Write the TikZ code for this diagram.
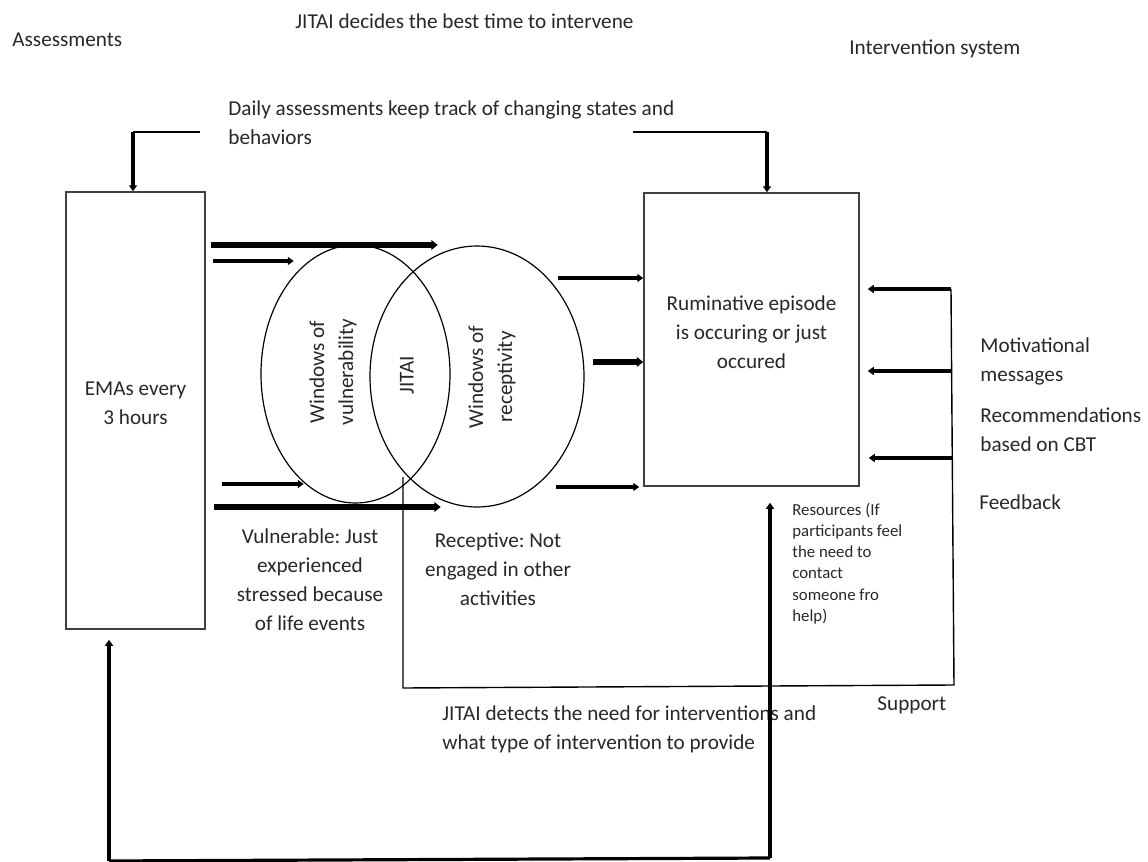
\documentclass[tikz,border=0pt]{standalone}
\usepackage{fontspec}
\setmainfont{Carlito}
\usepackage{tikz}
\usetikzlibrary{arrows.meta, shapes.geometric, positioning, calc}
\definecolor{inkgray}{RGB}{40,40,40}
\definecolor{edgegray}{RGB}{64,64,64}
\frenchspacing

\begin{document}
\begin{tikzpicture}[
    x=0.5pt, y=-0.5pt,
    every node/.style={font=\fontsize{10.6}{14.5}\selectfont, text=inkgray, inner sep=0pt},
    block/.style={rectangle, draw=edgegray, line width=0.75pt},
    window/.style={ellipse, draw=black, line width=0.6pt, inner sep=0pt},
    lbl/.style={align=left, anchor=west},
    mid/.style={align=center},
    small/.style={font=\fontsize{8.4}{10.65}\selectfont},
    arr/.style={-{Triangle[length=3pt,width=4pt]}, line width=2pt},
    fatarr/.style={-{Triangle[length=3.2pt,width=4.8pt]}, line width=2.6pt},
    wire/.style={line width=0.7pt, black}
]
\fill[white] (0,0) rectangle (1148,862);
\useasboundingbox (0,0) rectangle (1148,862);

% headings
\node[lbl] (asmt) at (12,40) {Assessments};
\node[lbl] (decide) at (295,21) {JITAI decides the best time to intervene};
\node[lbl] (intsys) at (849,49) {Intervention system};
\node[lbl] (daily) at (228,122.5) {Daily assessments keep track of changing states and\\behaviors};

% boxes
\node[block, minimum width=69.5pt, minimum height=218.5pt] (emas) at (135.5,410.5) {};
\node[mid] (emastxt) at ([yshift=3.5pt]emas.center) {EMAs every\\3 hours};
\node[block, minimum width=107.5pt, minimum height=146.5pt] (rum) at (751.5,339.5) {};
\node[mid] (rumtxt) at ([yshift=3.5pt]rum.center) {Ruminative episode\\is occuring or just\\occured};

% windows
\node[window, minimum width=94.5pt, minimum height=129pt] (vuln) at (355.5,374) {};
\node[window, minimum width=107pt, minimum height=130.5pt] (recp) at (477,376.5) {};
\node[mid, rotate=90] (vulntxt) at (333,372) {Windows of\\vulnerability};
\node[mid, rotate=90] (jitai) at (407,375) {JITAI};
\node[mid, rotate=90] (recptxt) at (492,377) {Windows of\\receptivity};

% labels
\node[mid] (vultxt) at (310,580) {Vulnerable: Just\\experienced\\stressed because\\of life events};
\node[mid] (rectxt) at (498,569.5) {Receptive: Not\\engaged in other\\activities};
\node[lbl] (motiv) at (980,361) {Motivational\\messages};
\node[lbl] (recom) at (980,430) {Recommendations\\based on CBT};
\node[lbl] (feedb) at (979,502) {Feedback};
\node[lbl, small] (resrc) at (792,563.5) {Resources (If\\participants feel\\the need to\\contact\\someone fro\\help)};
\node[lbl] (supp) at (877,705) {Support};
\node[lbl] (detect) at (442,729.5) {JITAI detects the need for interventions and\\what type of intervention to provide};

% daily assessments
\coordinate (dailyL) at (200,132);
\coordinate (dailyLc) at (133,132);
\coordinate (dailyR) at (633,132);
\coordinate (dailyRc) at (767,132);
\draw[wire] (dailyL) -- (dailyLc);
\draw[arr] (dailyLc) -- (dailyLc |- emas.north);
\draw[wire] (dailyR) -- (dailyRc);
\draw[arr] (dailyRc) -- (dailyRc |- rum.north);

% into the windows
\draw[fatarr] ($(emas.east |- 0,245)+(5,0)$) -- ++(227,0);
\draw[arr] ($(emas.east |- 0,261)+(7,0)$) -- ++(81,0);
\draw[arr] ($(emas.east |- 0,484)+(16,0)$) -- ++(82,0);
\draw[fatarr] ($(emas.east |- 0,507)+(8,0)$) -- ++(227,0);

% into the episode box
\coordinate (outA) at (558,278);
\coordinate (outB) at (593,362);
\coordinate (outC) at (556,487);
\draw[arr] (outA) -- (rum.west |- outA);
\draw[fatarr] (outB) -- (rum.west |- outB);
\draw[arr] (outC) -- ($(rum.west |- outC)+(-4,0)$);

% support loop
\coordinate (brTop) at (951,289);
\coordinate (brBot) at (954,685);
\coordinate (loopBL) at (403,688);
\coordinate (loopTop) at (403,477);
\draw[wire] (brTop) -- (brBot) -- (loopBL) -- (loopTop);
\coordinate (fbB) at (952,371);
\coordinate (fbC) at (952.5,458);
\draw[arr] (brTop) -- ($(rum.east |- brTop)+(8,0)$);
\draw[arr] (fbB) -- ($(rum.east |- fbB)+(8,0)$);
\draw[arr] (fbC) -- ($(rum.east |- fbC)+(9,0)$);

% back to assessments and resources
\coordinate (baseL) at (109,861);
\coordinate (baseR) at (770,858);
\draw[line width=1.6pt] (baseL) -- (baseR);
\draw[arr] (baseL) -- ($(emas.south -| baseL)+(0,10)$);
\draw[arr] (baseR) -- ($(rum.south -| baseR)+(0,16)$);
\end{tikzpicture}
\end{document}
